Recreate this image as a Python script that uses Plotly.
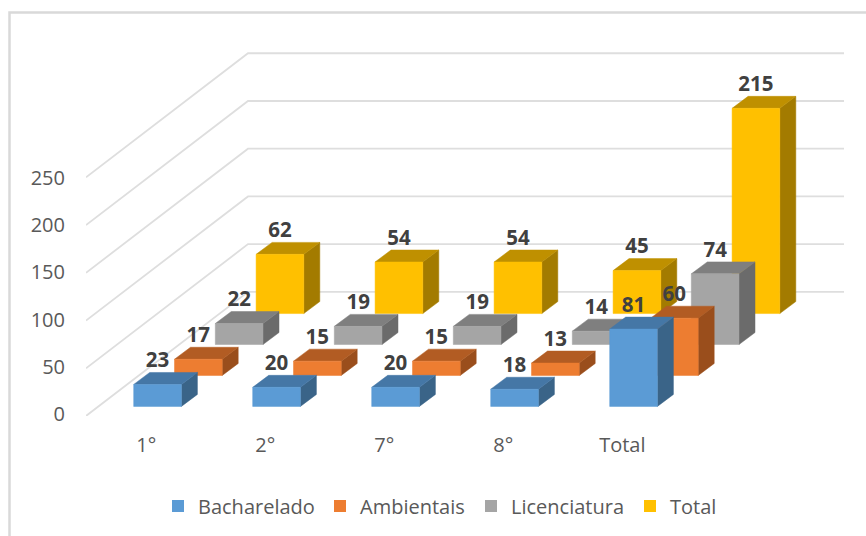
import plotly.graph_objects as go

# ---- data ----
categories = ["1°", "2°", "7°", "8°", "Total"]
bacharelado = [23, 20, 20, 18, 81]
ambientais = [17, 15, 15, 13, 60]
licenciatura = [22, 19, 19, 14, 74]
total = [62, 54, 54, 45, 215]
y_ticks = [0, 50, 100, 150, 200, 250]

series_names = ["Bacharelado", "Ambientais", "Licenciatura", "Total"]
series_values = [bacharelado, ambientais, licenciatura, total]
front_colors = ["#5B9BD5", "#ED7D31", "#A5A5A5", "#FFC000"]
top_colors = ["#4577A6", "#B25C23", "#7F7F7F", "#BF9000"]
side_colors = ["#3A6488", "#9A4E1C", "#6B6B6B", "#A37B00"]

# ---- layout / projection constants (pixels) ----
W, H = 866, 536
L, R, T, B = 86, 844, 20, 416.6
PX_X = 119.0      # pixels per category
PX_Y = 0.956      # pixels per value unit
BAR_W = 47.7 / PX_X
BAR_X0 = (133.7 - L) / PX_X
BAR_Y0 = (B - 407) / PX_Y
STEP_X = 40.8 / PX_X        # shift from one series to the next
STEP_Y = 31.0 / PX_Y
DEPTH_X = 16.0 / PX_X       # depth of a bar
DEPTH_Y = 12.0 / PX_Y
WALL_X = 162.0 / PX_X       # depth of the floor
WALL_Y = 124.3 / PX_Y
LABEL_UP = 22.5 / PX_Y
TICK_X = (146.3 - L) / PX_X

fig = go.Figure()

# back-wall / side-wall gridlines
gx, gy = [], []
for t in y_ticks:
    gx += [0, WALL_X, (R - L) / PX_X, None]
    gy += [t, t + WALL_Y, t + WALL_Y, None]
fig.add_trace(go.Scatter(x=gx, y=gy, mode="lines", hoverinfo="skip", showlegend=False,
                         line=dict(color="#DEDEDE", width=1.8)))


def face_trace(xs, ys, color):
    return go.Scatter(x=xs, y=ys, mode="lines", fill="toself", fillcolor=color,
                      line=dict(color=color, width=0.5), hoverinfo="skip", showlegend=False)


# bars, back series first
for j in reversed(range(len(series_names))):
    vals = series_values[j]
    fx, fy, tx, ty, sx, sy = [], [], [], [], [], []
    for i, v in enumerate(vals):
        x0 = i + BAR_X0 + j * STEP_X
        x1 = x0 + BAR_W
        y0 = BAR_Y0 + j * STEP_Y
        y1 = y0 + v
        fx += [x0, x1, x1, x0, x0, None]
        fy += [y0, y0, y1, y1, y0, None]
        tx += [x0, x1, x1 + DEPTH_X, x0 + DEPTH_X, x0, None]
        ty += [y1, y1, y1 + DEPTH_Y, y1 + DEPTH_Y, y1, None]
        sx += [x1, x1 + DEPTH_X, x1 + DEPTH_X, x1, x1, None]
        sy += [y0, y0 + DEPTH_Y, y1 + DEPTH_Y, y1, y0, None]
    fig.add_trace(face_trace(sx, sy, side_colors[j]))
    fig.add_trace(face_trace(tx, ty, top_colors[j]))
    fig.add_trace(face_trace(fx, fy, front_colors[j]))

# data labels above everything
for j in reversed(range(len(series_names))):
    vals = series_values[j]
    fig.add_trace(go.Scatter(
        x=[i + BAR_X0 + j * STEP_X + BAR_W / 2 for i in range(len(vals))],
        y=[BAR_Y0 + j * STEP_Y + v + LABEL_UP for v in vals],
        text=[str(v) for v in vals], mode="text", textposition="middle center",
        textfont=dict(family="Open Sans", size=20.5, color="#404040", weight="bold"),
        hoverinfo="skip", showlegend=False))

# invisible trace so the label axis is drawn
fig.add_trace(go.Scatter(x=[0] * len(y_ticks), y=y_ticks, yaxis="y2", mode="markers",
                         marker=dict(opacity=0), hoverinfo="skip", showlegend=False))

# legend: one small legend per series so the entries sit where they belong
legend_px = [158, 320, 471, 630]
LEGEND_BOTTOM = 525
layout_legends = {}
for j, name in enumerate(series_names):
    key = "legend" if j == 0 else f"legend{j + 1}"
    fig.add_trace(go.Scatter(x=[None], y=[None], mode="markers", name=name, legend=key,
                             marker=dict(symbol="square", size=12, color=front_colors[j])))
    layout_legends[key] = dict(x=(legend_px[j] - L) / (R - L), y=(B - LEGEND_BOTTOM) / (B - T),
                               xanchor="left", yanchor="bottom", bgcolor="rgba(0,0,0,0)",
                               font=dict(family="Open Sans", size=20, color="#595959"),
                               itemwidth=30, tracegroupgap=0)

border = dict(type="path", xref="paper", yref="paper",
              path=f"M {(9.5 - L) / (R - L)} {(B - 540) / (B - T)} "
                   f"L {(9.5 - L) / (R - L)} {(B - 12.5) / (B - T)} "
                   f"L {(870 - L) / (R - L)} {(B - 12.5) / (B - T)}",
              line=dict(color="#D9D9D9", width=2.5))

fig.update_layout(
    width=W, height=H, autosize=False,
    margin=dict(l=L, r=W - R, t=T, b=H - B),
    paper_bgcolor="white", plot_bgcolor="white",
    shapes=[border],
    xaxis=dict(range=[0, (R - L) / PX_X], showgrid=False, zeroline=False, showline=False,
               tickmode="array", tickvals=[i + TICK_X for i in range(len(categories))],
               ticktext=categories, ticks="", ticklabelstandoff=15,
               tickfont=dict(family="Open Sans", size=20, color="#595959")),
    yaxis=dict(range=[0, (B - T) / PX_Y], showgrid=False, zeroline=False, showline=False,
               showticklabels=False, ticks=""),
    yaxis2=dict(overlaying="y", side="left", anchor="x",
                range=[(415 - B) / 0.948, (415 - T) / 0.948],
                showgrid=False, zeroline=False, showline=False,
                tickmode="array", tickvals=y_ticks, ticks="", ticklabelstandoff=20,
                tickfont=dict(family="Open Sans", size=20, color="#595959")),
    **layout_legends,
)

fig.write_html("out.html", config={"displayModeBar": False},
               post_script="document.body.style.margin='0';document.documentElement.style.overflow='hidden';")
